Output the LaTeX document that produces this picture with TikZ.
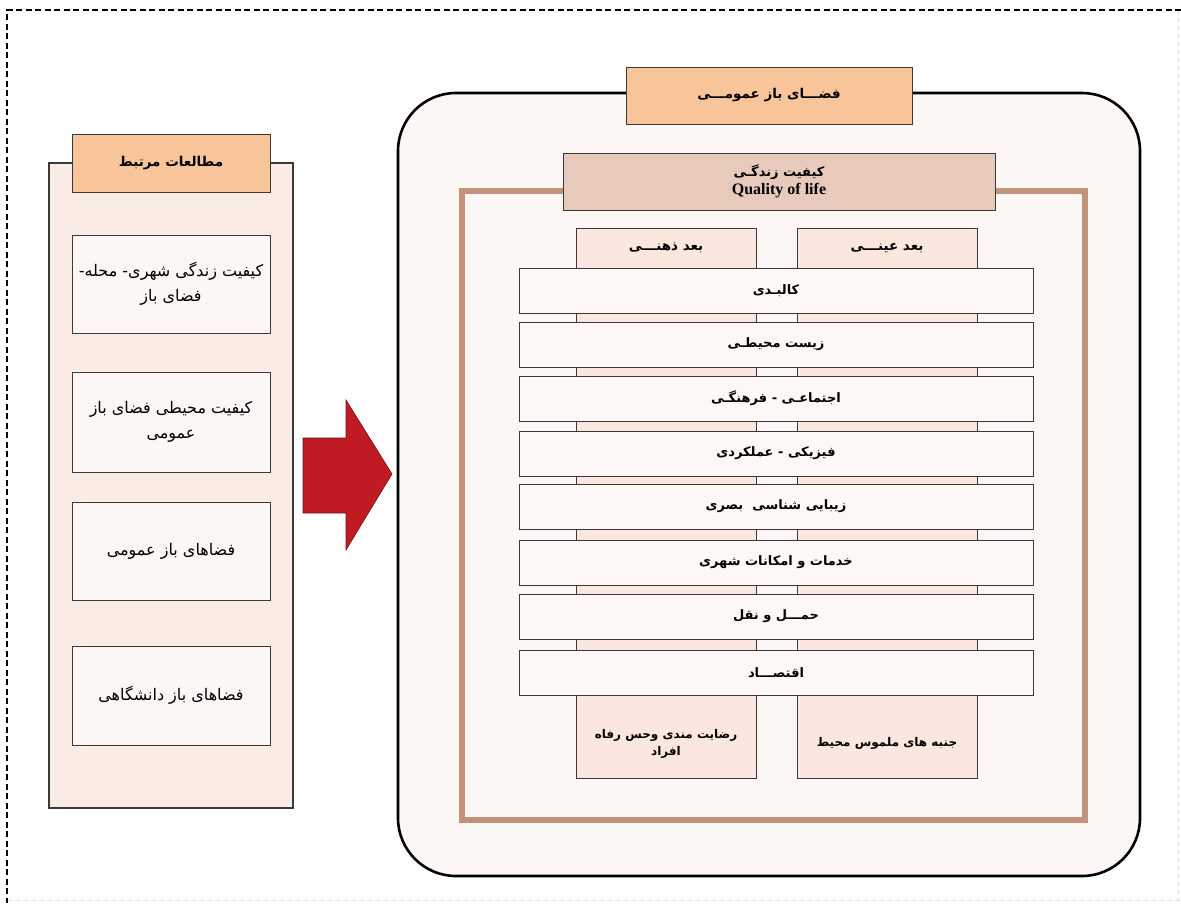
\documentclass[tikz,border=0pt]{standalone}
\usepackage{fontspec}
\setmainfont{DejaVu Sans}
\newfontfamily\arabicfont[Script=Arabic]{DejaVu Sans}
\newfontfamily\enfont{Liberation Serif}
\TeXXeTstate=1
\newcommand{\fa}[1]{{\arabicfont\beginR #1\endR}}
\newcommand{\fab}[1]{{\arabicfont\bfseries\beginR #1\endR}}
\definecolor{titleorange}{HTML}{F8C49A}
\definecolor{panelfill}{HTML}{FBEBE5}
\definecolor{innerfill}{HTML}{FCF6F4}
\definecolor{qualfill}{HTML}{E8CABC}
\definecolor{colfill}{HTML}{FBE7DF}
\definecolor{barfill}{HTML}{FDF8F6}
\definecolor{outerfill}{HTML}{FCF7F5}
\definecolor{brownline}{HTML}{C3927B}
\definecolor{arrowred}{HTML}{C01B22}
\definecolor{edge}{HTML}{3A3A3A}
\begin{document}
\begin{tikzpicture}[x=1pt,y=-1pt,
  plainbox/.style={draw=edge, line width=0.9pt, inner sep=0pt, outer sep=0pt},
  titlebox/.style={plainbox, fill=titleorange, font=\fontsize{13.5}{16}\selectfont},
  leftbox/.style={plainbox, fill=innerfill, minimum width=198pt, align=center, font=\fontsize{16}{25}\selectfont},
  barbox/.style={plainbox, fill=barfill, minimum width=514pt, minimum height=45pt, font=\fontsize{13}{16}\selectfont},
  colbox/.style={plainbox, fill=colfill, minimum width=180pt, minimum height=550pt},
  txt/.style={inner sep=0pt, align=center, font=\fontsize{12}{17}\selectfont}
]
\useasboundingbox (0,0) rectangle (1181,903);
% outer dashed frame
\draw[gray!25, line width=1pt, dash pattern=on 5pt off 3pt] (7,900) -- (1178,900) -- (1178,10);
\draw[black, line width=1.3pt, dash pattern=on 6pt off 3.5pt] (1181,10) -- (7,10) -- (7,903);

% left panel
\node[plainbox, fill=panelfill, line width=1.1pt, minimum width=244pt, minimum height=645pt] (panel) at (171,485.5) {};
\node[titlebox, minimum width=198pt, minimum height=58pt] (lefttitle) at (171,163) {\fab{مطالعات مرتبط}};
\node[leftbox, minimum height=98pt] (lb1) at (171,284) {\fa{کیفیت زندگی شهری- محله-}\\\fa{فضای باز}};
\node[leftbox, minimum height=100pt] (lb2) at (171,422) {\fa{کیفیت محیطی فضای باز}\\\fa{عمومی}};
\node[leftbox, minimum height=98pt] (lb3) at (171,551) {\fa{فضاهای باز عمومی}};
\node[leftbox, minimum height=99pt] (lb4) at (171,695.5) {\fa{فضاهای باز دانشگاهی}};

% red arrow
\draw[fill=arrowred, draw=arrowred!60!black, line width=0.6pt]
  (303,438) -- (346,438) -- (346,400) -- (392,474) -- (346,550) -- (346,513) -- (303,513) -- cycle;

% main rounded frame
\node[draw=black, line width=2.6pt, fill=outerfill, rounded corners=58pt, minimum width=742pt, minimum height=783pt, inner sep=0pt] (outer) at (769,484.5) {};
\node[draw=brownline, line width=6pt, minimum width=623pt, minimum height=629pt, inner sep=0pt] (brown) at (773.5,505.5) {};
\node[titlebox, minimum width=286pt, minimum height=57pt] (maintitle) at (769,95.5) {\fab{فضـــای باز عمومـــی}};
\node[plainbox, fill=qualfill, minimum width=432pt, minimum height=57pt, align=center, font=\fontsize{13}{17}\selectfont] (quality) at (779,181.5) {\fab{کیفیت زندگـی}\\[1pt]{\enfont\bfseries\fontsize{16}{18}\selectfont Quality of life}};

% columns
\node[colbox] (colL) at (666,503) {};
\node[colbox] (colR) at (887,503) {};
\node[txt, font=\fontsize{13.5}{16}\selectfont] (headL) at (666,248) {\fab{بعد ذهنـــی}};
\node[txt, font=\fontsize{13.5}{16}\selectfont] (headR) at (887,248) {\fab{بعد عینـــی}};
\node[txt] (footL) at (666,744) {\fab{رضایت مندی وحس رفاه}\\\fab{افراد}};
\node[txt] (footR) at (887,743) {\fab{جنبه های ملموس محیط}};

% bars
\node[barbox] (b1) at (776,290.5) {\fab{کالبـدی}};
\node[barbox] (b2) at (776,344.5) {\fab{زیست محیطـی}};
\node[barbox] (b3) at (776,398.5) {\fab{اجتماعـی - فرهنگـی}};
\node[barbox] (b4) at (776,453.5) {\fab{فیزیکی - عملکردی}};
\node[barbox] (b5) at (776,506.5) {\fab{زیبایی شناسی\ \ بصری}};
\node[barbox] (b6) at (776,562.5) {\fab{خدمات و امکانات شهری}};
\node[barbox] (b7) at (776,616.5) {\fab{حمـــل و نقل}};
\node[barbox] (b8) at (776,672.5) {\fab{اقتصـــاد}};
\end{tikzpicture}
\end{document}
